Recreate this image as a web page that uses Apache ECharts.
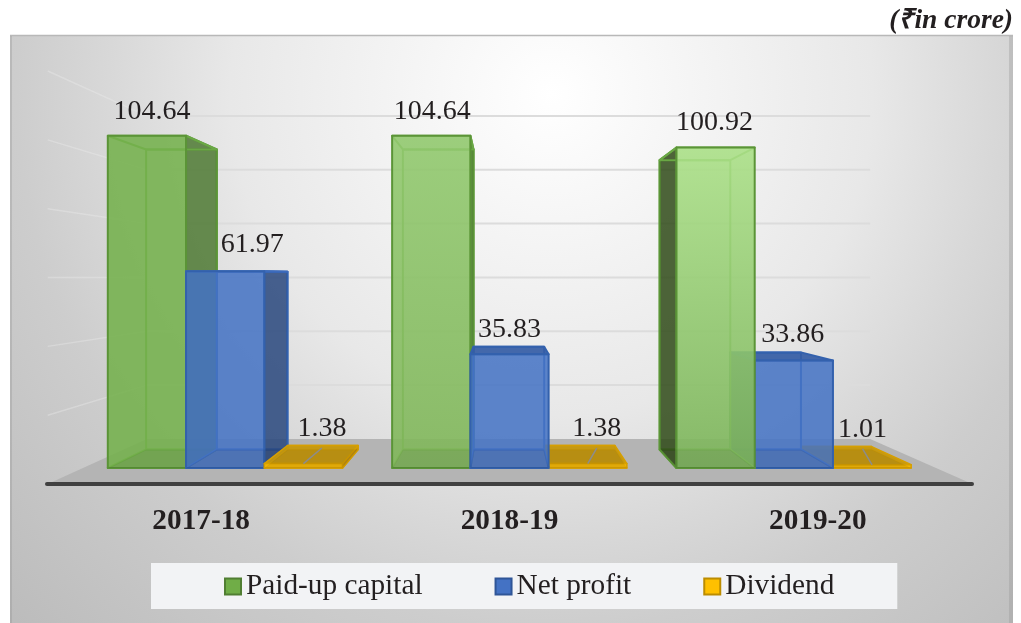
<!DOCTYPE html>
<html>
<head>
<meta charset="utf-8">
<title>Paid-up capital, net profit and dividend</title>
<script src="https://cdn.jsdelivr.net/npm/echarts@6/dist/echarts.min.js"></script>
<style>
  html, body { margin: 0; padding: 0; background: #fff; }
  #chart { width: 1021px; height: 623px; }
</style>
</head>
<body>
<div id="chart"></div>
<script>
// data
const categories = ['2017-18', '2018-19', '2019-20'];
const paidUpCapital = [104.64, 104.64, 100.92];
const netProfit = [61.97, 35.83, 33.86];
const dividend = [1.38, 1.38, 1.01];
const valueTicks = [0, 20, 40, 60, 80, 100, 120];

const FONT = '"Liberation Serif", "Times New Roman", serif';

// fake 3d: front plane is the grid, everything else is scaled towards a vanishing point
const VP_X = 503;
const VP_Y = 277;
const BAR_BACK = 0.903;
const WALL_BACK = 0.848;
const FLOOR_FRONT = 1.084;
const BAR_SHARE = 0.2752;

function project(p, z) {
  return [VP_X + z * (p[0] - VP_X), VP_Y + z * (p[1] - VP_Y)];
}

function face(points, fill, stroke, lineWidth, z2) {
  return {
    type: 'polygon',
    shape: { points: points },
    style: { fill: fill || 'none', stroke: stroke || 'none', lineWidth: lineWidth || 0, lineJoin: 'round' },
    z2: z2
  };
}

function vertical(top, bottom) {
  return {
    type: 'linear', x: 0, y: 0, x2: 0, y2: 1,
    colorStops: [{ offset: 0, color: top }, { offset: 1, color: bottom }]
  };
}

// per series look, three groups each
const looks = [
  {
    name: 'Paid-up capital',
    fill: ['rgba(116,176,76,0.88)', vertical('rgba(146,201,111,0.9)', 'rgba(128,182,90,0.9)'), vertical('rgba(171,224,136,0.9)', 'rgba(124,180,90,0.9)')],
    side: ['rgba(78,121,50,0.85)', 'rgba(70,115,45,0.85)', 'rgba(47,74,24,0.85)'],
    top: null,
    edge: '#5b9437', inner: '#6aa845', lineWidth: 2,
    order: [1, 1, 3],
    marker: '#70ad47', markerEdge: '#507e32'
  },
  {
    name: 'Net profit',
    fill: ['rgba(68,114,196,0.86)', 'rgba(68,114,196,0.86)', 'rgba(68,114,196,0.86)'],
    side: ['rgba(40,70,125,0.85)', 'rgba(40,70,125,0.85)', 'rgba(40,70,125,0.85)'],
    top: 'rgba(52,92,165,0.92)',
    edge: '#3361ad', inner: '#3c6bbd', lineWidth: 2,
    order: [2, 2, 2],
    marker: '#4472c4', markerEdge: '#2f5597'
  },
  {
    name: 'Dividend',
    fill: ['rgba(244,182,0,0.95)', 'rgba(244,182,0,0.95)', 'rgba(244,182,0,0.95)'],
    side: ['rgba(184,134,11,0.9)', 'rgba(184,134,11,0.9)', 'rgba(184,134,11,0.9)'],
    top: 'rgba(198,152,12,0.95)',
    edge: '#d69f00', inner: '#d09c00', lineWidth: 1.5,
    order: [3, 1, 1],
    marker: '#ffc000', markerEdge: '#bc8c00'
  }
];

// label position relative to the top middle of the bar front
const labelShift = [
  [[5, -26], [1, -26], [-1, -27]],
  [[27, -29], [0, -27], [-1, -28]],
  [[18.5, -36.6], [9, -36.6], [-9.5, -37]]
];

function renderBar(seriesIndex) {
  return function (params, api) {
    const cat = api.value(0);
    const val = api.value(1);
    const look = looks[seriesIndex];
    const lw = look.lineWidth;
    const band = api.size([1, 0])[0];
    const width = band * BAR_SHARE;
    const centre = api.coord([cat, 0])[0];
    const x0 = centre + (seriesIndex - 1.5) * width;
    const x1 = x0 + width;
    const base = api.coord([cat, 0])[1];
    const top = api.coord([cat, val])[1];
    const z = look.order[cat] * 10;

    const fTL = [x0, top], fTR = [x1, top], fBR = [x1, base], fBL = [x0, base];
    const bTL = project(fTL, BAR_BACK), bTR = project(fTR, BAR_BACK);
    const bBR = project(fBR, BAR_BACK), bBL = project(fBL, BAR_BACK);

    const parts = [];
    parts.push(face([bTL, bTR, bBR, bBL], null, look.inner, lw, z));
    parts.push(face([fBL, fBR, bBR, bBL], null, look.inner, lw, z));
    // only the side that sticks out of the front gets a dark fill
    if (bBL[0] < x0) {
      parts.push(face([fTL, bTL, bBL, fBL], look.side[cat], look.edge, lw, z + 1));
    }
    if (bBR[0] > x1) {
      parts.push(face([fTR, bTR, bBR, fBR], look.side[cat], look.edge, lw, z + 1));
    }
    if (look.top && bTL[1] < top) {
      parts.push(face([fTL, fTR, bTR, bTL], look.top, look.edge, lw, z + 2));
    } else {
      parts.push(face([fTL, fTR, bTR, bTL], null, look.inner, lw, z + 2));
    }
    parts.push(face([fTL, fTR, fBR, fBL], look.fill[cat], look.edge, lw, z + 3));
    parts.push(face([fBL, fBR, bBR, bBL], 'rgba(0,0,0,0.07)', null, 0, z + 4));

    const shift = labelShift[seriesIndex][cat];
    const labelX = (x0 + x1) / 2 + shift[0];
    const labelY = top + shift[1];
    if (seriesIndex === 2) {
      // leader line of the small bars
      parts.push({
        type: 'line',
        shape: { x1: (x0 + x1) / 2, y1: top, x2: labelX, y2: labelY + 21 },
        style: { stroke: '#8c8c8c', lineWidth: 1.5 },
        z2: 60
      });
    }
    parts.push({
      type: 'text',
      style: {
        text: val.toFixed(2), x: labelX, y: labelY + 2,
        textAlign: 'center', textVerticalAlign: 'middle',
        fill: '#231f20', font: '28px ' + FONT
      },
      z2: 100
    });
    return { type: 'group', children: parts };
  };
}

function renderFloor(params, api) {
  const box = params.coordSys;
  const left = box.x, right = box.x + box.width;
  const base = api.coord([0, 0])[1];
  return face([
    project([left, base], FLOOR_FRONT), project([right, base], FLOOR_FRONT),
    project([right, base], WALL_BACK), project([left, base], WALL_BACK)
  ], '#b4b4b4', null, 0, 1);
}

function renderWallLine(params, api) {
  const box = params.coordSys;
  const left = box.x, right = box.x + box.width;
  const y = api.coord([0, api.value(0)])[1];
  const a = project([left, y], FLOOR_FRONT);
  const b = project([left, y], WALL_BACK);
  const c = project([right, y], WALL_BACK);
  return {
    type: 'group',
    children: [
      { type: 'line', shape: { x1: a[0], y1: a[1], x2: b[0], y2: b[1] }, style: { stroke: 'rgba(238,238,238,0.35)', lineWidth: 1.5 }, z2: 2 },
      { type: 'line', shape: { x1: b[0], y1: b[1], x2: c[0], y2: c[1] }, style: { stroke: '#dcdcdc', lineWidth: 2 }, z2: 2 }
    ]
  };
}

const seriesValues = [paidUpCapital, netProfit, dividend];
const barSeries = looks.map(function (look, i) {
  return {
    name: look.name,
    type: 'custom',
    coordinateSystem: 'cartesian2d',
    xAxisIndex: 0,
    yAxisIndex: 0,
    renderItem: renderBar(i),
    encode: { x: 0, y: 1 },
    itemStyle: { color: look.marker, borderColor: look.markerEdge, borderWidth: 1.5 },
    data: seriesValues[i].map(function (v, c) { return [c, v]; }),
    silent: true
  };
});

const chart = echarts.init(document.getElementById('chart'));
chart.setOption({
  animation: false,
  title: {
    text: '(₹in crore)',
    right: 8,
    top: 7,
    padding: 0,
    textStyle: { fontFamily: FONT, fontWeight: 'bold', fontStyle: 'italic', fontSize: 27.5, color: '#231f20' }
  },
  graphic: [
    {
      type: 'rect',
      z: -10,
      shape: { x: 10, y: 35, width: 1003, height: 588 },
      style: {
        fill: {
          type: 'radial', x: 0.54, y: 0.1, r: 1.3,
          colorStops: [
            { offset: 0, color: '#ffffff' },
            { offset: 0.2, color: '#f4f4f4' },
            { offset: 0.42, color: '#e8e8e8' },
            { offset: 0.58, color: '#d8d8d8' },
            { offset: 0.7, color: '#cdcdcd' },
            { offset: 1, color: '#bbbbbb' }
          ]
        }
      }
    },
    { type: 'line', z: -9, shape: { x1: 10, y1: 35.5, x2: 1013, y2: 35.5 }, style: { stroke: '#b8b8b8', lineWidth: 1.5 } },
    { type: 'rect', z: -9, shape: { x: 1009, y: 36, width: 4, height: 587 }, style: { fill: 'rgba(150,150,150,0.35)' } },
    { type: 'rect', z: -9, shape: { x: 10, y: 36, width: 2, height: 587 }, style: { fill: 'rgba(150,150,150,0.35)' } }
  ],
  legend: {
    left: 151,
    top: 563,
    padding: [9, 63, 8, 73],
    backgroundColor: '#f2f3f5',
    itemWidth: 16,
    itemHeight: 16,
    itemGap: 72,
    icon: 'rect',
    textStyle: { fontFamily: FONT, fontSize: 29.3, color: '#231f20' },
    data: looks.map(function (look) { return look.name; })
  },
  grid: [
    { left: 83, right: 85, top: 87, bottom: 155 },
    { left: 47, right: 49, top: 87, bottom: 139 }
  ],
  xAxis: [
    { type: 'category', gridIndex: 0, data: categories, show: false },
    {
      type: 'category',
      gridIndex: 1,
      z: 3,
      data: categories,
      axisTick: { show: false },
      axisLine: { lineStyle: { color: '#404040', width: 4, cap: 'round' } },
      axisLabel: { margin: 23, fontFamily: FONT, fontWeight: 'bold', fontSize: 29.3, color: '#231f20' }
    }
  ],
  yAxis: [
    { type: 'value', gridIndex: 0, min: 0, max: 120, interval: 20, show: false },
    { type: 'value', gridIndex: 1, min: 0, max: 120, interval: 20, show: false }
  ],
  series: [
    {
      type: 'custom',
      coordinateSystem: 'cartesian2d',
      xAxisIndex: 0,
      yAxisIndex: 0,
      renderItem: renderFloor,
      data: [[0, 0]],
      silent: true,
      z: 1
    },
    {
      type: 'custom',
      coordinateSystem: 'cartesian2d',
      xAxisIndex: 0,
      yAxisIndex: 0,
      renderItem: renderWallLine,
      encode: { y: 0 },
      data: valueTicks.slice(1).map(function (t) { return [t]; }),
      silent: true,
      z: 1
    }
  ].concat(barSeries)
});
</script>
</body>
</html>
